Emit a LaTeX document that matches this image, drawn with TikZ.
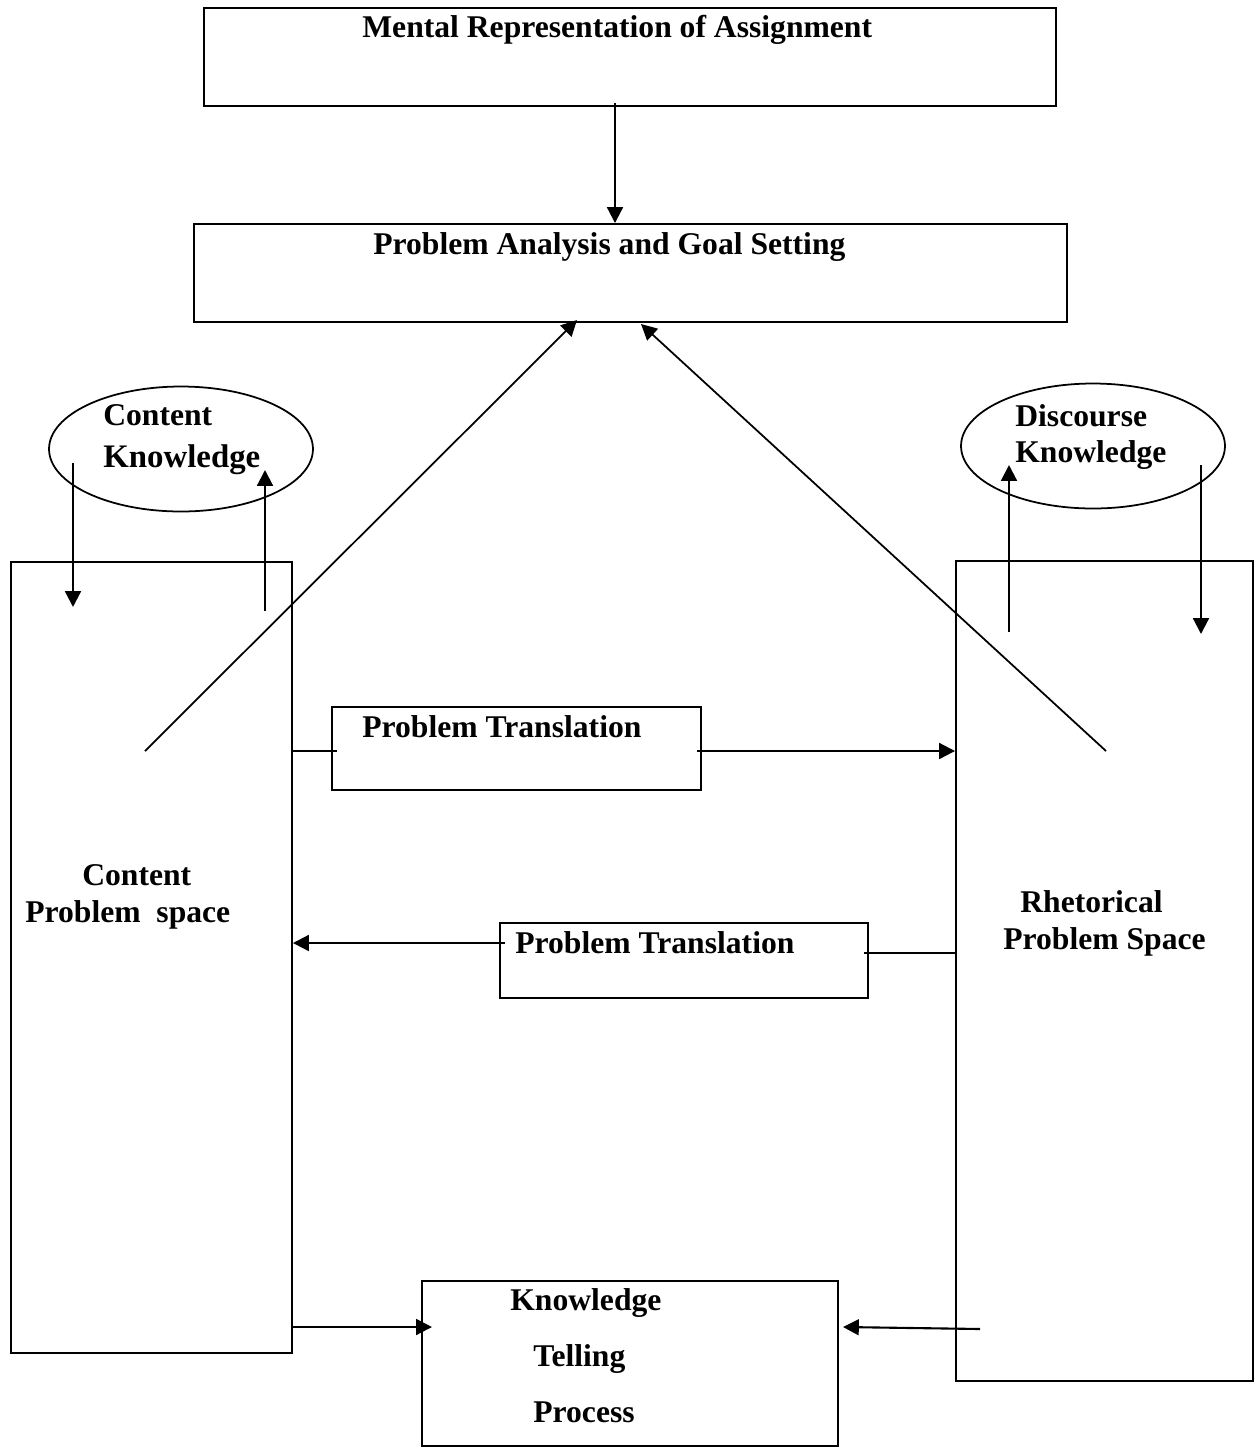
\documentclass[tikz,border=0pt]{standalone}
\usepackage{fontspec}
\setmainfont{Liberation Serif}
\usetikzlibrary{arrows.meta,fit,shapes.geometric}

\begin{document}
\begin{tikzpicture}[x=0.02cm,y=-0.02cm,
		box/.style={draw,line width=1.1pt,inner sep=0pt,fit={#1}},
		oval/.style={draw,ellipse,line width=1pt,inner sep=0pt,minimum width=5.28cm,minimum height=2.5cm},
		lbl/.style={anchor=base west,inner sep=0pt,font=\fontsize{18}{22}\selectfont\bfseries},
		arr/.style={line width=1.2pt,-{Triangle[length=9pt,width=9pt]}},
		diag/.style={line width=1pt,-{Triangle[length=9pt,width=9pt]}},
		ln/.style={line width=1.2pt}]
		\useasboundingbox (0,0) rectangle (1256,1448);
		% boxes
		\node[box={(204,8)(1056,106)}] (mra) {};
		\node[box={(194,224)(1067,322)}] (pags) {};
		\node[box={(11,562)(292,1353)}] (cps) {};
		\node[box={(956,561)(1253,1381)}] (rps) {};
		\node[box={(332,707)(701,790)}] (ptA) {};
		\node[box={(500,923)(868,998)}] (ptB) {};
		\node[box={(422,1281)(838,1446)}] (ktp) {};
		\node[oval] (ck) at (181,449) {};
		\node[oval] (dk) at (1093,446) {};
		% texts
		\node[lbl] (tmra) at (362,37) {Mental Representation of Assignment};
		\node[lbl] (tpags) at (373,254) {Problem Analysis and Goal Setting};
		\node[lbl] (tck1) at (103,425) {Content};
		\node[lbl,font=\fontsize{18.7}{22}\selectfont\bfseries] (tck2) at (103,467) {Knowledge};
		\node[lbl] (tdk1) at (1015,426) {Discourse};
		\node[lbl] (tdk2) at (1015,462) {Knowledge};
		\node[lbl] (tptA) at (362,737) {Problem Translation};
		\node[lbl] (tptB) at (515,953) {Problem Translation};
		\node[lbl] (tcps1) at (82,885) {Content};
		\node[lbl] (tcps2) at (25,922) {Problem\ \ space};
		\node[lbl] (trps1) at (1020,912) {Rhetorical};
		\node[lbl] (trps2) at (1003,949) {Problem Space};
		\node[lbl] (tktp1) at (510,1310) {Knowledge};
		\node[lbl] (tktp2) at (533,1366) {Telling};
		\node[lbl] (tktp3) at (533,1422) {Process};
		% free ends
		\coordinate (m0) at (615,103);
		\coordinate (c0) at (145,751);
		\coordinate (c1) at (577,320);
		\coordinate (r0) at (1106,751);
		\coordinate (r1) at (641,324);
		\coordinate (ckd) at (73,463);
		\coordinate (cku) at (265,611);
		\coordinate (dku) at (1009,632);
		\coordinate (dkd) at (1201,465);
		% connectors
		\draw[arr] (m0) -- (m0 |- pags.north);
		\draw[diag] (c0) -- (c1);
		\draw[diag] (r0) -- (r1);
		\draw[arr] (ckd) -- (73,607);
		\draw[arr] (cku) -- (265,470);
		\draw[arr] (dku) -- (1009,465);
		\draw[arr] (dkd) -- (1201,634);
		\draw[ln] (cps.east |- 0,751) -- (337,751);
		\draw[arr] (697,751) -- (rps.west |- 0,751);
		\draw[arr] (505,943) -- (cps.east |- 0,943);
		\draw[ln] (864,953) -- (rps.west |- 0,953);
		\draw[arr] (cps.east |- 0,1327) -- (432,1327);
		\draw[arr] (980,1329) -- (843,1327);
\end{tikzpicture}
\end{document}
